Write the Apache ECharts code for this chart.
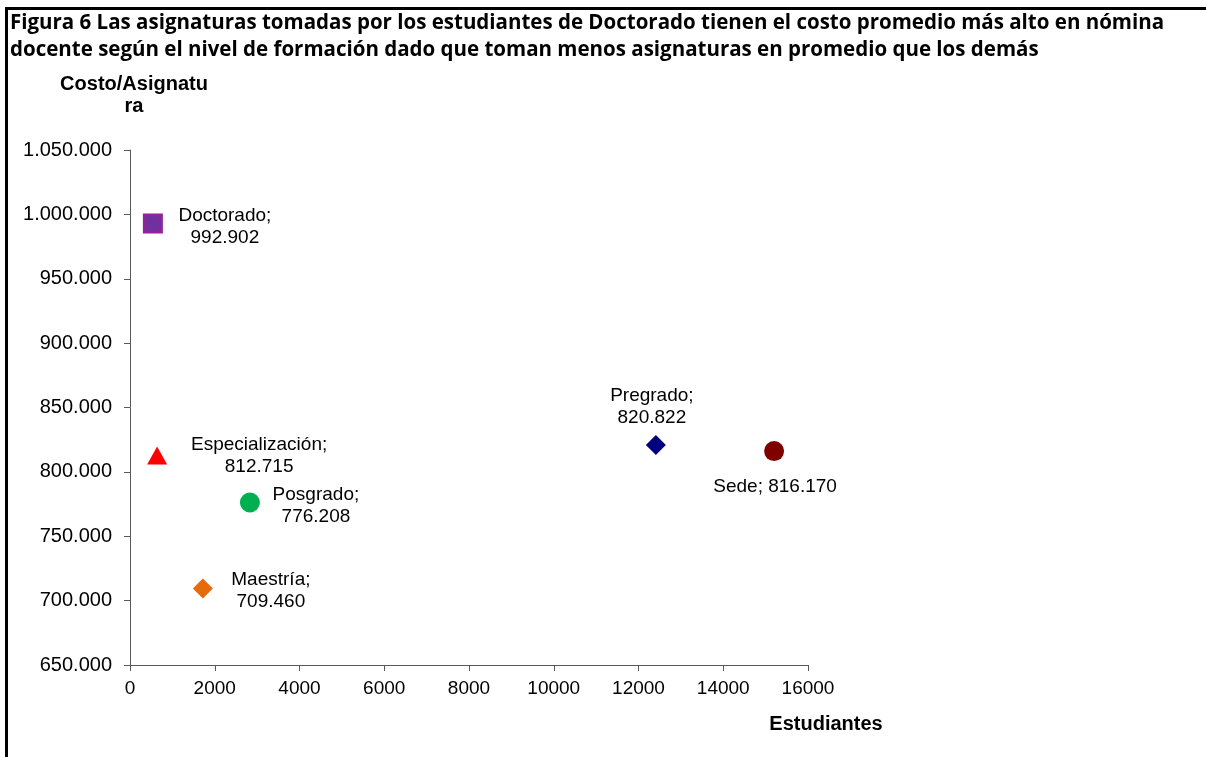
<!DOCTYPE html>
<html>
<head>
<meta charset="utf-8">
<script src="https://cdn.jsdelivr.net/npm/echarts@6/dist/echarts.min.js"></script>
<style>
  html, body { margin: 0; padding: 0; background: #fff; }
  #chart { width: 1206px; height: 757px; }
  #frame { position: absolute; left: 5px; top: 7px; width: 1300px; height: 800px;
           border-left: 3px solid #000; border-top: 3px solid #000; pointer-events: none; }
</style>
</head>
<body>
<div id="chart"></div>
<div id="frame"></div>
<script>
// niveles de formacion
var names = ['Doctorado', 'Especialización', 'Posgrado', 'Maestría', 'Pregrado', 'Sede'];
var estudiantes = [540, 640, 2830, 1720, 12410, 15200];
var costo = [992902, 812715, 776208, 709460, 820822, 816170];
var symbols = ['rect', 'triangle', 'circle', 'diamond', 'diamond', 'circle'];
var colors = ['#7030A0', '#FF0000', '#00B050', '#E46C0A', '#000080', '#800000'];
var labelOffsets = [[72, 3], [102, 0], [66, 3], [68, 2], [-4, -38], [1, 36]];

function miles(v) {
  return String(Math.round(v)).replace(/\B(?=(\d{3})+(?!\d))/g, '.');
}

var chartDom = document.getElementById('chart');
var myChart = echarts.init(chartDom, null, { renderer: 'canvas' });
var option;

var series = names.map(function (n, i) {
  var txt = n === 'Sede' ? n + '; ' + miles(costo[i]) : n + ';\n' + miles(costo[i]);
  return {
    name: n,
    type: 'scatter',
    symbol: symbols[i],
    symbolSize: symbols[i] === 'rect' ? 18 : (symbols[i] === 'triangle' ? [20, 18] : 20),
    itemStyle: {
      color: colors[i],
      opacity: 1,
      borderColor: symbols[i] === 'rect' ? '#9B1F96' : colors[i],
      borderWidth: symbols[i] === 'rect' ? 2 : 0
    },
    data: [[estudiantes[i], costo[i]]],
    label: {
      show: true,
      position: 'inside',
      offset: labelOffsets[i],
      formatter: txt,
      color: '#000',
      fontFamily: 'Liberation Sans',
      fontSize: 19,
      lineHeight: 22,
      align: 'center'
    }
  };
});

option = {
  animation: false,
  textStyle: { fontFamily: 'Liberation Sans' },
  grid: { left: 130, top: 150, right: 1206 - 808, bottom: 757 - 665, containLabel: false },
  graphic: [
    { type: 'text', left: 10, top: 10, style: {
        text: 'Figura 6 Las asignaturas tomadas por los estudiantes de Doctorado tienen el costo promedio más alto en nómina\ndocente según el nivel de formación dado que toman menos asignaturas en promedio que los demás',
        font: 'bold 20.5px "Open Sans"', lineHeight: 27, fill: '#000' } },
    { type: 'text', x: 134, y: 95, style: {
        text: 'Costo/Asignatu\nra', font: 'bold 20px "Liberation Sans"', lineHeight: 22,
        align: 'center', verticalAlign: 'middle', fill: '#000' } },
    { type: 'text', x: 826, y: 724, style: {
        text: 'Estudiantes', font: 'bold 20px "Liberation Sans"',
        align: 'center', verticalAlign: 'middle', fill: '#000' } }
  ],
  xAxis: {
    type: 'value', min: 0, max: 16000, interval: 2000,
    splitLine: { show: false },
    axisLine: { show: true, lineStyle: { color: '#595959' } },
    axisTick: { show: true, inside: false, length: 6, lineStyle: { color: '#595959' } },
    axisLabel: { color: '#000', fontSize: 19, margin: 14, formatter: function (v) { return String(v); } }
  },
  yAxis: {
    type: 'value', min: 650000, max: 1050000, interval: 50000,
    splitLine: { show: false },
    axisLine: { show: true, lineStyle: { color: '#595959' } },
    axisTick: { show: true, inside: false, length: 6, lineStyle: { color: '#595959' } },
    axisLabel: { color: '#000', fontSize: 20, margin: 18, formatter: miles }
  },
  series: series
};

option && myChart.setOption(option);
</script>
</body>
</html>
